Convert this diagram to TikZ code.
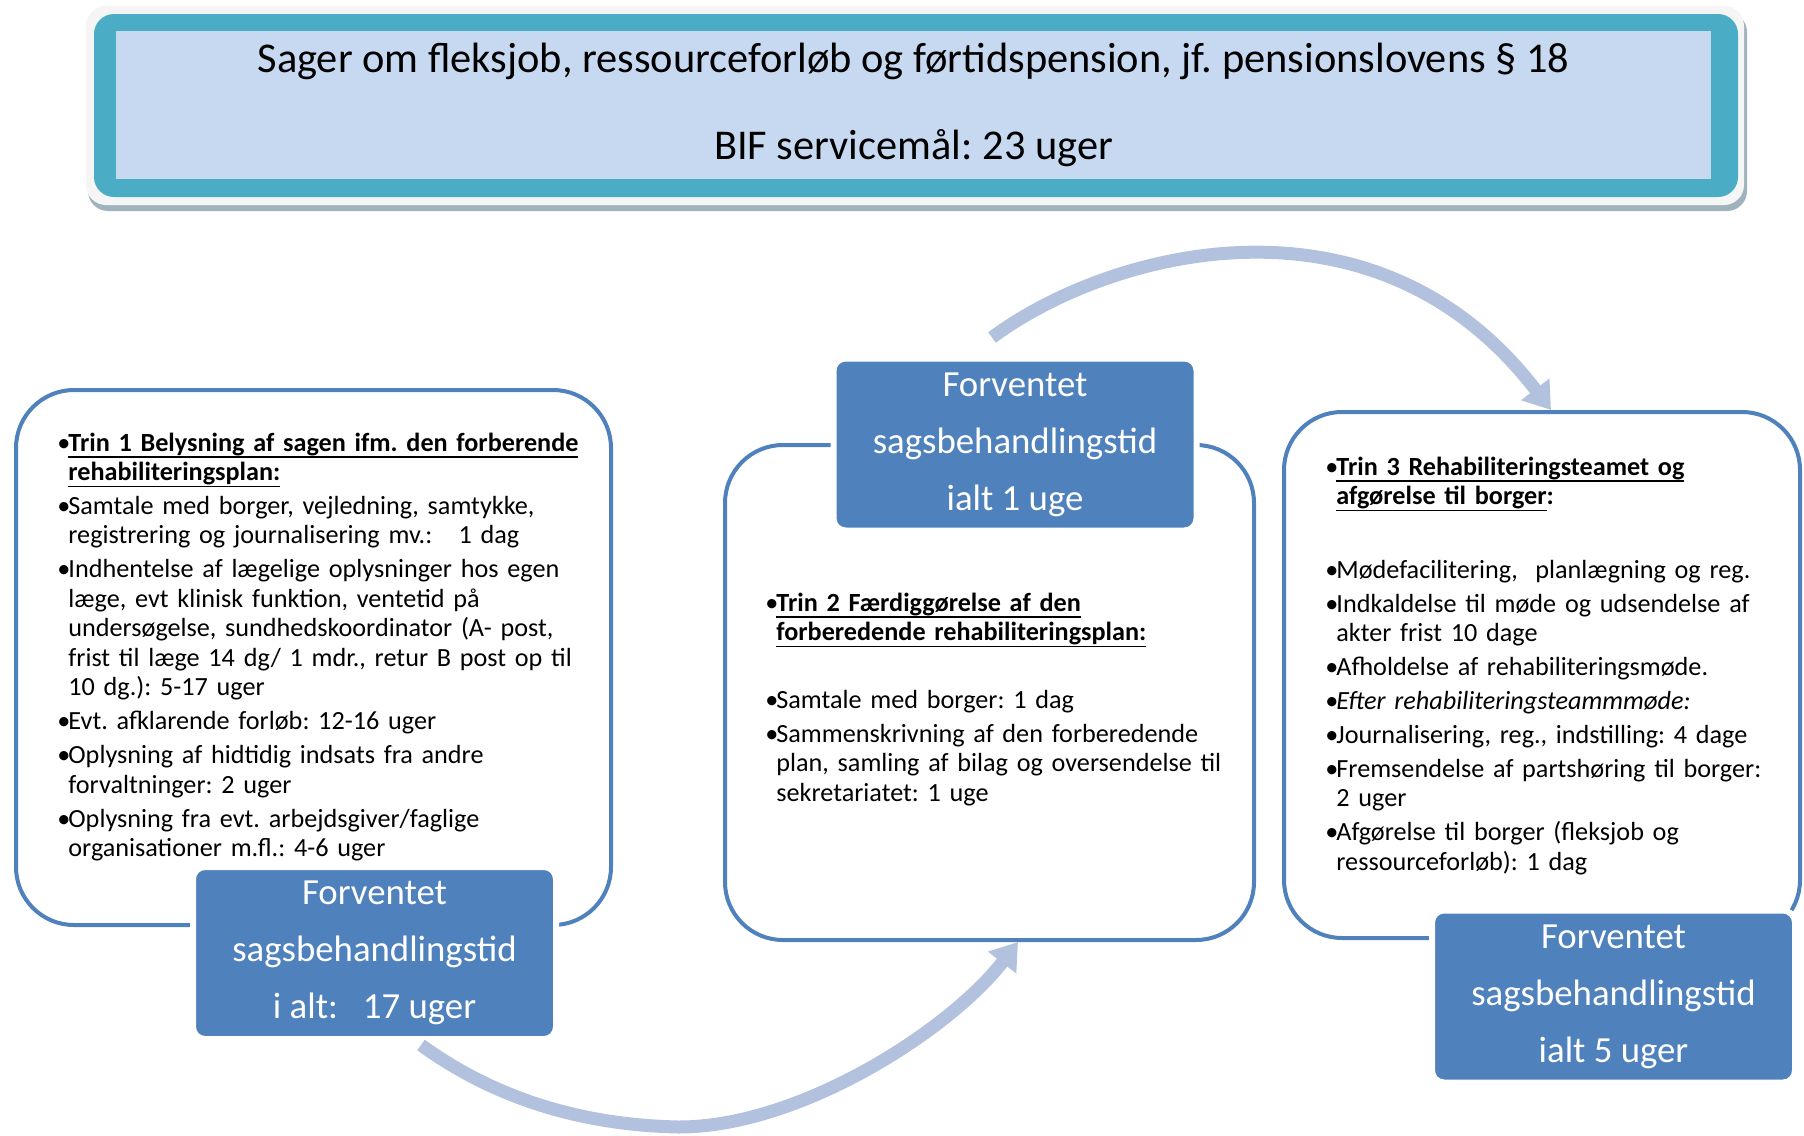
\documentclass[tikz,border=0pt]{standalone}
\usepackage{fontspec}
\setmainfont{Carlito}
\usetikzlibrary{arrows.meta,calc}

\definecolor{boxblue}{RGB}{79,129,189}
\definecolor{titleteal}{RGB}{75,172,198}
\definecolor{titlefill}{RGB}{198,217,241}
\definecolor{arrowblue}{RGB}{178,194,222}
\definecolor{shadowgray}{RGB}{160,178,188}

% bullet lines with hanging indent
\newcommand{\bitemhead}{\hangindent=5.5pt\hangafter=1\noindent\makebox[5.5pt][l]{\textbullet}}
\newcommand{\bitem}{\par\bitemhead}
% thicker underline close to the text
\newcommand{\hdline}[1]{\setbox0\hbox{#1}\rlap{\rule[-3.4pt]{\wd0}{0.9pt}}\box0}
% narrower word spaces
\newcommand{\tightspace}{\spaceskip=0.19em plus 0.05em minus 0.02em\relax}
\frenchspacing

\begin{document}
\begin{tikzpicture}[
    x=0.5pt, y=-0.5pt,
    phasebox/.style={draw=boxblue, line width=2pt, fill=white, rounded corners=29pt},
    timebox/.style={fill=boxblue, draw=white, line width=3pt, rounded corners=6pt,
      minimum width=181.5pt, minimum height=86pt, text=white, align=center,
      font=\fontsize{18.4}{28.5}\selectfont},
    txt/.style={anchor=base west, inner sep=0pt, align=left,
      font=\fontsize{13.1}{14.75}\selectfont\frenchspacing\tightspace},
    headline/.style={anchor=base, inner sep=0pt, font=\fontsize{21.2}{26}\selectfont\frenchspacing},
    arrow/.style={-{Triangle[length=13pt,width=17pt]}, line width=6.5pt, draw=arrowblue}
  ]
  \useasboundingbox (0,0) rectangle (1804,1135);

  % Title banner
  \fill[shadowgray, rounded corners=10pt] (88,12) rectangle (1747,211);
  \fill[gray!8, rounded corners=10pt] (86,6) rectangle (1744,205);
  \fill[titleteal, rounded corners=10pt] (94,14) rectangle (1738,197);
  \node[fill=titlefill, inner sep=0pt, minimum width=797.5pt, minimum height=74pt] (title) at (913.5,105) {};
  \node[headline] (head1) at (913.5,72) {Sager om fleksjob, ressourceforløb og førtidspension, jf. pensionslovens § 18};
  \node[headline] (head2) at (913.5,159) {BIF servicemål: 23 uger};

  % Phase boxes
  \node[phasebox, minimum width=297.5pt, minimum height=267.5pt] (S1) at (313.5,657.5) {};
  \node[phasebox, minimum width=264.5pt, minimum height=247.5pt] (S2) at (989.5,692.5) {};
  \node[phasebox, minimum width=258pt, minimum height=263pt] (S3) at (1542,675) {};

  % Phase texts
  \node[txt, text width=280pt] (N1) at (57,451) {\setlength{\parskip}{2.2pt}%
    \bitemhead\textbf{\hdline{Trin 1 Belysning af sagen ifm. den forberende}}\newline
      \textbf{\hdline{rehabiliteringsplan:}}
    \bitem Samtale med borger, vejledning, samtykke,\newline
      registrering og journalisering mv.:\ \ \ 1 dag
    \bitem Indhentelse af lægelige oplysninger hos egen\newline
      læge, evt klinisk funktion, ventetid på\newline
      undersøgelse, sundhedskoordinator (A- post,\newline
      frist til læge 14 dg/ 1 mdr., retur B post op til\newline
      10 dg.): 5-17 uger
    \bitem Evt. afklarende forløb: 12-16 uger
    \bitem Oplysning af hidtidig indsats fra andre\newline
      forvaltninger: 2 uger
    \bitem Oplysning fra evt. arbejdsgiver/faglige\newline
      organisationer m.fl.: 4-6 uger\par};
  \node[txt, text width=240pt] (N2) at (765,611) {\setlength{\parskip}{2.2pt}%
    \bitemhead\textbf{\hdline{Trin 2 Færdiggørelse af den}}\newline
      \textbf{\hdline{forberedende rehabiliteringsplan:}}
    \par\vspace{17pt}
    \bitem Samtale med borger: 1 dag
    \bitem Sammenskrivning af den forberedende\newline
      plan, samling af bilag og oversendelse til\newline
      sekretariatet: 1 uge\par};
  \node[txt, text width=235pt] (N3) at (1325,475) {\setlength{\parskip}{2.2pt}%
    \bitemhead\textbf{\hdline{Trin 3 Rehabiliteringsteamet og}}\newline
      \textbf{\hdline{afgørelse til borger}:}
    \par\vspace{20pt}
    \bitem Mødefacilitering,\ \ planlægning og reg.
    \bitem Indkaldelse til møde og udsendelse af\newline
      akter frist 10 dage
    \bitem Afholdelse af rehabiliteringsmøde.
    \bitem\textit{Efter rehabiliteringsteammmøde:}
    \bitem Journalisering, reg., indstilling: 4 dage
    \bitem Fremsendelse af partshøring til borger:\newline
      2 uger
    \bitem Afgørelse til borger (fleksjob og\newline
      ressourceforløb): 1 dag\par};

  % Expected processing times
  \node[timebox] (T1) at (374.5,953) {Forventet\\sagsbehandlingstid\\i alt:\ \ \ 17 uger};
  \node[timebox] (T2) at (1015,444.5) {Forventet\\sagsbehandlingstid\\ialt 1 uge};
  \node[timebox] (T3) at (1613.5,996.5) {Forventet\\sagsbehandlingstid\\ialt 5 uger};

  % Flow arrows
  \draw[arrow] ($(T2.north)+(-23,-18)$) .. controls (1110,250) and (1375,180) .. ($(S3.north)+(9,0)$);
  \draw[arrow] ($(T1.south)+(46.5,3)$) .. controls (490,1095) and (575,1125) .. (679,1127)
    .. controls (800,1127) and (950,1030) .. ($(S2.south)+(28.5,0)$);
\end{tikzpicture}
\end{document}
